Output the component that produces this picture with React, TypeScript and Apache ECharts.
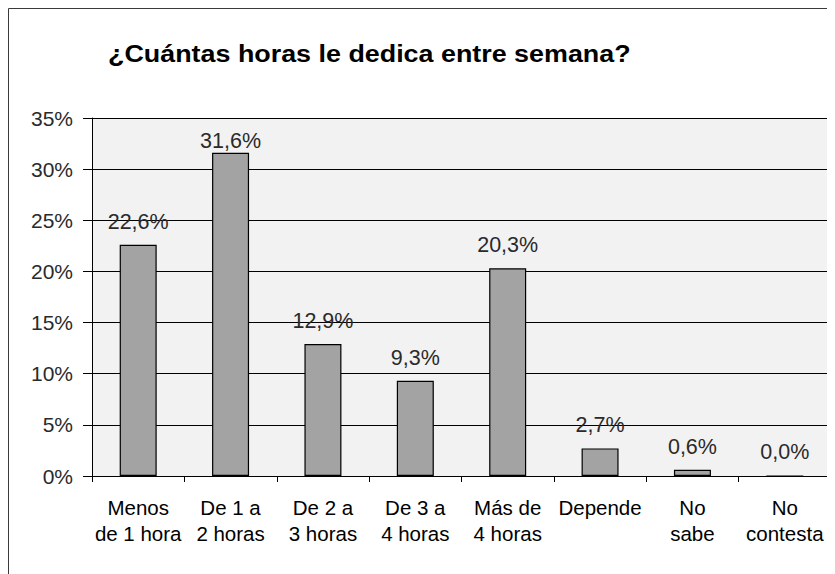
import React, { useEffect, useRef } from "react";
import * as echarts from "echarts";

const categories = [
  "Menos\nde 1 hora",
  "De 1 a\n2 horas",
  "De 2 a\n3 horas",
  "De 3 a\n4 horas",
  "Más de\n4 horas",
  "Depende",
  "No\nsabe",
  "No\ncontesta",
];
const values = [22.6, 31.6, 12.9, 9.3, 20.3, 2.7, 0.6, 0.0];
const yTicks = [0, 5, 10, 15, 20, 25, 30, 35];
const titleText = "¿Cuántas horas le dedica entre semana?";

const fmt = (v: number) => v.toFixed(1).replace(".", ",") + "%";

export default function App() {
  const ref = useRef<HTMLDivElement>(null);
  useEffect(() => {
    if (!ref.current) return;
    const chart = echarts.init(ref.current, null, { renderer: "svg" });
    chart.setOption({
      animation: false,
      backgroundColor: "#ffffff",
      graphic: [
        {
          type: "rect",
          silent: true,
          z: 100,
          shape: { x: 0.5, y: 0.5, width: 1200, height: 1200 },
          style: { fill: "none", stroke: "#3a3a3a", lineWidth: 1 },
        },
        {
          type: "text",
          x: 100,
          y: 46,
          scaleX: 1.12,
          style: {
            text: titleText,
            font: 'bold 24px "Liberation Sans", Arial, sans-serif',
            fill: "#000",
            verticalAlign: "middle",
            align: "left",
          },
        },
      ],
      grid: {
        left: 84,
        top: 110,
        right: 4,
        bottom: 98,
        show: true,
        backgroundColor: "#f2f2f2",
        borderWidth: 0,
        outerBoundsMode: "none",
      },
      xAxis: {
        type: "category",
        data: categories,
        boundaryGap: true,
        axisLine: { show: true, lineStyle: { color: "#000", width: 1 } },
        axisTick: { show: true, length: 6, interval: 0, lineStyle: { color: "#000" } },
        axisLabel: {
          interval: 0,
          margin: 18,
          color: "#000",
          fontFamily: '"Liberation Sans", Arial, sans-serif',
          fontSize: 20.5,
          lineHeight: 26,
        },
        splitLine: { show: false },
      },
      yAxis: {
        type: "value",
        min: yTicks[0],
        max: yTicks[yTicks.length - 1],
        interval: yTicks[1] - yTicks[0],
        axisLine: { show: true, lineStyle: { color: "#000", width: 1 } },
        axisTick: { show: true, length: 9, lineStyle: { color: "#000" } },
        axisLabel: {
          margin: 19,
          color: "#2a2a2a",
          fontFamily: '"Liberation Sans", Arial, sans-serif',
          fontSize: 21,
          formatter: (v: number) => `${v}%`,
        },
        splitLine: { show: true, lineStyle: { color: "#000", width: 1 } },
      },
      series: [
        {
          type: "bar",
          barWidth: 37,
          data: values.map((v) => ({
            value: v,
            label: { distance: v > 30 ? 1 : 12 },
          })),
          itemStyle: { color: "#a3a3a3", borderColor: "#000", borderWidth: 1.2 },
          label: {
            show: true,
            position: "top",
            color: "#2a2a2a",
            fontFamily: '"Liberation Sans", Arial, sans-serif',
            fontSize: 21.5,
            formatter: (p: any) => fmt(p.value),
          },
        },
      ],
    });
    return () => chart.dispose();
  }, []);
  return <div ref={ref} style={{ width: 827, height: 566 }} />;
}
